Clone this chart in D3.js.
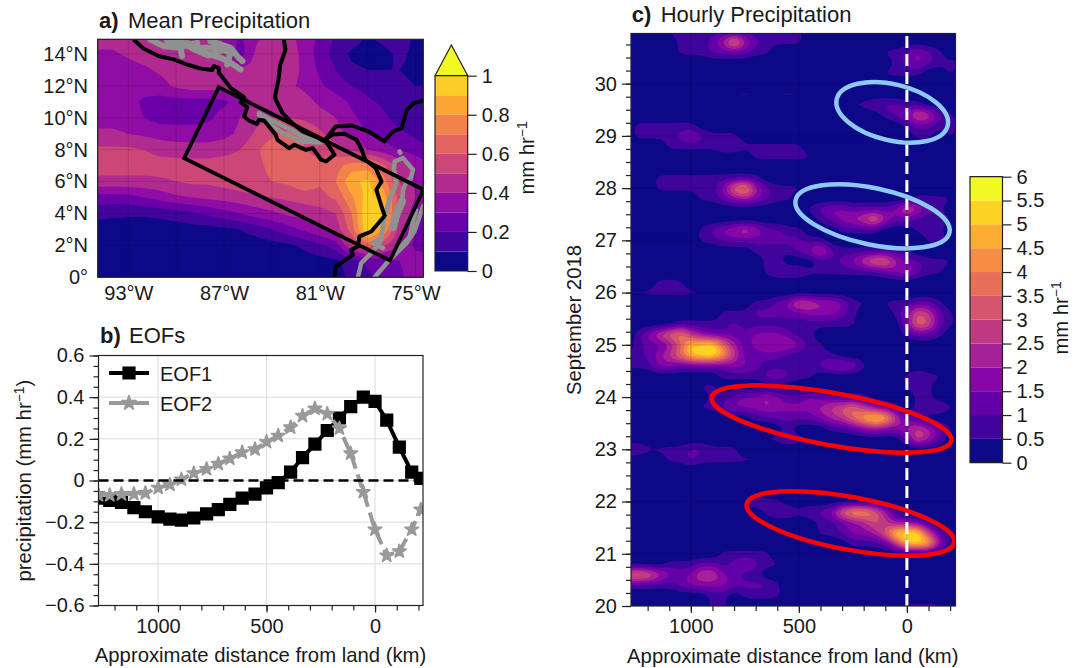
<!DOCTYPE html>
<html>
<head>
<meta charset="utf-8">
<script src="https://cdn.jsdelivr.net/npm/d3@7"></script>
<style>
    body { margin: 0; background: #fff; }
    text { font-family: "Liberation Sans", sans-serif; fill: #1a1a1a; }
</style>
</head>
<body>
<svg id="chart" width="1083" height="668"></svg>
<script>
// panel a: mean precipitation, hundredths of mm/hr, one row per latitude, one column per longitude
const meanLons = [-95, -94, -93, -92, -91, -90, -89, -88, -87, -86, -85, -84, -83, -82, -81, -80, -79, -78, -77, -76, -75, -74]
const meanLats = [15, 14, 13, 12, 11, 10, 9, 8, 7, 6, 5, 4, 3, 2, 1, 0]
const meanRows = [
    [45, 45, 45, 45, 45, 45, 45, 43, 38, 28, 38, 45, 45, 35, 28, 18, 15, 8, 13, 15, 8, 5],
    [38, 38, 42, 45, 45, 45, 45, 45, 45, 25, 42, 45, 44, 38, 25, 16, 8, 6, 7, 12, 8, 6],
    [35, 35, 35, 38, 42, 45, 45, 45, 45, 42, 44, 48, 45, 38, 28, 20, 12, 10, 10, 10, 8, 8],
    [35, 35, 35, 35, 36, 42, 45, 45, 45, 45, 48, 45, 42, 38, 32, 25, 20, 16, 15, 12, 10, 10],
    [35, 35, 34, 28, 26, 26, 26, 26, 28, 34, 42, 46, 48, 44, 38, 35, 28, 22, 18, 15, 13, 12],
    [36, 36, 34, 30, 26, 26, 26, 28, 34, 40, 46, 50, 50, 48, 44, 40, 32, 26, 22, 16, 14, 13],
    [42, 42, 40, 38, 36, 35, 35, 35, 37, 42, 52, 58, 62, 60, 52, 44, 36, 30, 26, 22, 18, 15],
    [52, 52, 52, 50, 46, 45, 44, 44, 46, 50, 58, 66, 62, 60, 58, 55, 48, 40, 34, 30, 25, 20],
    [55, 55, 55, 55, 55, 55, 55, 55, 56, 56, 58, 62, 62, 62, 62, 66, 75, 75, 62, 45, 38, 32],
    [47, 47, 47, 47, 48, 50, 52, 52, 54, 56, 58, 60, 62, 68, 62, 70, 88, 92, 75, 50, 38, 30],
    [25, 25, 26, 30, 34, 38, 40, 42, 44, 46, 48, 50, 52, 54, 56, 62, 78, 95, 85, 55, 40, 28],
    [15, 13, 12, 12, 13, 15, 18, 22, 26, 30, 35, 38, 42, 44, 46, 50, 70, 100, 95, 50, 34, 25],
    [3, 3, 3, 3, 4, 5, 6, 6, 8, 10, 14, 20, 26, 32, 38, 44, 65, 100, 80, 45, 30, 22],
    [2, 2, 2, 2, 2, 2, 2, 3, 3, 4, 5, 6, 8, 12, 18, 25, 50, 65, 52, 38, 28, 22],
    [1, 1, 1, 1, 1, 1, 1, 1, 2, 2, 2, 3, 4, 5, 6, 8, 14, 22, 26, 30, 34, 40],
    [1, 1, 1, 1, 1, 1, 1, 1, 1, 1, 2, 2, 3, 4, 5, 7, 12, 18, 22, 28, 36, 42]
]
const meanLevels = [0, 0.1, 0.2, 0.3, 0.4, 0.5, 0.6, 0.7, 0.8, 0.9, 1]
const meanTicks = [0, 0.2, 0.4, 0.6, 0.8, 1]
const lonTicks = [-93, -87, -81, -75]
const latTicks = [0, 2, 4, 6, 8, 10, 12, 14]
const lonGrid = [-93, -90, -87, -84, -81, -78, -75]

// map outlines, [lon, lat]
const pacificCoast = [[-92.68, 14.91], [-92.05, 14.34], [-91.1, 13.87], [-90.16, 13.66], [-89.32, 13.34], [-88.48, 13.09], [-87.74, 12.99], [-87.64, 13.24], [-87.33, 13.13], [-87.33, 12.82], [-86.59, 11.88], [-85.75, 11.3], [-85.96, 10.96], [-85.54, 10.67], [-85.75, 10.08], [-85.44, 9.83], [-84.95, 9.62], [-84.81, 9.87], [-84.49, 9.83], [-83.76, 8.93], [-83.65, 8.62], [-82.92, 8.1], [-82.6, 8.31], [-81.87, 7.99], [-81.44, 8.1], [-80.92, 7.37], [-80.61, 7.26], [-80.08, 7.68], [-80.4, 8.2], [-80.71, 8.6], [-80.2, 8.95], [-79.46, 9], [-78.7, 8.62], [-78.37, 8], [-78.15, 7.37], [-77.5, 6.85], [-77.13, 6.01], [-77.45, 5.49], [-77.13, 4.44], [-76.93, 3.86], [-77.77, 2.87], [-78.51, 2.56], [-78.61, 1.93], [-79.03, 1.72], [-78.93, 1.41], [-79.98, 0.68], [-80.08, 0]]
const caribbeanCoast = [[-83.26, 14.93], [-83.15, 14.26], [-83.48, 13.32], [-83.59, 12.38], [-83.8, 11.34], [-83.76, 11.13], [-83.33, 10.29], [-82.72, 9.67], [-82.07, 9.14], [-81.2, 8.79], [-80.71, 8.51]]
const colombiaCoast = [[-80.71, 8.55], [-80, 9.46], [-79.02, 9.52], [-77.93, 9.14], [-76.96, 8.52], [-76.41, 9.14], [-75.87, 9.35], [-75.54, 10.5], [-75.11, 10.92], [-74.5, 11.09]]
const analysisBox = [[-87.33, 11.92], [-74.5, 5.49], [-76.6, 1.05], [-89.5, 7.47]]
const highlandLines = [
    [[-91.63, 14.91], [-90.79, 14.49], [-89.74, 14.39], [-89.63, 13.87]],
    [[-90.57, 14.81], [-89.53, 14.49], [-88.68, 14.7]],
    [[-89.32, 14.7], [-88.27, 14.08], [-87.22, 13.76], [-86.59, 13.45], [-85.96, 13.03]],
    [[-88.68, 14.39], [-87.43, 14.39], [-86.59, 14.08], [-86.8, 13.34]],
    [[-87.85, 14.81], [-86.59, 14.39], [-86.17, 13.87], [-85.85, 13.55]],
    [[-89.9, 14.9], [-88.9, 14.3], [-88, 13.9], [-87.2, 14.2]]
]
const terrainLines = [
    [[-84.81, 10.29], [-83.86, 9.77], [-82.81, 9.25], [-81.87, 8.73], [-80.92, 8.51]],
    [[-84.81, 10.18], [-84.07, 9.56], [-83.33, 9.04], [-82.18, 8.51], [-80.92, 8.45]],
    [[-76, 7.89], [-75.95, 7.8]],
    [[-76.35, 6.74], [-76.31, 7.26], [-75.78, 7.47], [-75.15, 6.74], [-75.3, 6.2], [-75.57, 6.01], [-75.78, 5.49], [-75.84, 4.75], [-76.2, 3.92], [-76.41, 3.15]],
    [[-76.31, 6.63], [-76.2, 5.8], [-76.62, 4.97], [-76.83, 4.13], [-77.04, 3.29], [-77.14, 2.46], [-77.67, 2.14], [-77.04, 1.83]],
    [[-78.61, 0], [-78.4, 0.89], [-77.67, 1.62], [-77.14, 2.35]],
    [[-77.56, 0], [-76.72, 0.99], [-75.57, 2.14], [-75.07, 2.87], [-74.5, 4.5]],
    [[-76.09, 1.72], [-75.36, 2.56], [-75.15, 3.5], [-74.95, 4.2]]
]
const thickTerrain = [[-75.84, 4.75], [-76.2, 3.92], [-76.41, 3.15]]

// panel b: leading EOFs
const eofKm = [1274, 1222, 1168, 1111, 1058, 999, 945, 892, 835, 776, 722, 669, 612, 553, 500, 446, 389, 334, 277, 220, 164, 112, 54, 0, -54, -112, -169, -211]
const eof1 = [-0.085, -0.095, -0.105, -0.13, -0.15, -0.175, -0.185, -0.19, -0.18, -0.16, -0.14, -0.115, -0.085, -0.065, -0.035, -0.01, 0.04, 0.11, 0.175, 0.24, 0.3, 0.355, 0.4, 0.38, 0.29, 0.16, 0.04, 0.01]
const eof2 = [-0.07, -0.07, -0.065, -0.065, -0.06, -0.035, -0.02, 0.005, 0.035, 0.055, 0.08, 0.105, 0.135, 0.15, 0.185, 0.215, 0.255, 0.31, 0.345, 0.32, 0.25, 0.13, -0.055, -0.235, -0.36, -0.34, -0.235, -0.14]
const eofTicks = [-0.6, -0.4, -0.2, 0, 0.2, 0.4, 0.6]
const kmTicks = [1000, 500, 0]

// panel c: hovmoller, one char per 50 km (1300 .. -250), char is the colour band number, '.' is below 0.5
const hourlyDays = [31, 30.8, 30.6, 30.4, 30.2, 30, 29.8, 29.6, 29.4, 29.2, 29, 28.8, 28.6, 28.4, 28.2, 28, 27.8, 27.6, 27.4, 27.2, 27, 26.8, 26.6, 26.4, 26.2, 26, 25.8, 25.6, 25.4, 25.2, 25, 24.8, 24.6, 24.4, 24.2, 24, 23.8, 23.6, 23.4, 23.2, 23, 22.8, 22.6, 22.4, 22.2, 22, 21.8, 21.6, 21.4, 21.2, 21, 20.8, 20.6, 20.4, 20.2, 20]
const hourlyRows = [
    "....1111111111111",
    ".....111248421111",
    ".....111222211..........112321",
    ".........................1232111",
    "........................1111..1.",
    "....11",
    "..........111.111",
    ".....................1122211",
    "........................1236521",
    ".111111............." + "......122111",
    ".1111232111........." + ".......11.1.",
    "....1111122111111",
    "............111111",
    "",
    "...1111111111",
    ".1.11111137942111",
    ".......112343211...." + ".......1111",
    ".................123" + "3222236421",
    "..................12" + "34574221111",
    ".......1234542211..." + "1111...111",
    ".......112222222211." + "........111",
    "............11112352" + "1111111",
    ".............11...112" + "3577422111",
    ".............1222111" + "1111234211",
    "...111",
    "11111111",
    "............11236544" + "311.111221",
    ".........11122222333" + "21...136521",
    ".....111112111111111" + "11....37621",
    ".13578532222333211.." + "......1221",
    ".12236aab7423444311",
    "11235 7abb95222211111".replace(" ", ""),
    "11133222223321111123" + "431",
    ".........111123211.." + "......1211",
    ".......11..........." + "......111",
    "........112334322322" + "111....11",
    ".......1123334333345" + "675321.1221",
    "............11222234" + "579ba521",
    "...............1...1" + "12343345421",
    ".............11211.." + "......2642",
    "22111122111",
    "....112111111",
    "",
    ".......11",
    "",
    ".....111...1211",
    ".............1221223" + "799741",
    "..................11" + "234653321",
    "..................11" + "23346bbb52",
    "...................." + ".11125aba41",
    ".........11111",
    "....11122123211",
    "7875323553211",
    "111112333322221",
    "........11.1111",
    "........11.........." + "......1111"
]
const hourlyKm = [1300, 1250, 1200, 1150, 1100, 1050, 1000, 950, 900, 850, 800, 750, 700, 650, 600, 550, 500, 450, 400, 350, 300, 250, 200, 150, 100, 50, 0, -50, -100, -150, -200, -250]
const hourlyLevels = [0, 0.5, 1, 1.5, 2, 2.5, 3, 3.5, 4, 4.5, 5, 5.5, 6]
const hourlyTicks = [0, 0.5, 1, 1.5, 2, 2.5, 3, 3.5, 4, 4.5, 5, 5.5, 6]
const dayTicks = [20, 21, 22, 23, 24, 25, 26, 27, 28, 29, 30]
const dayMinor = d3.range(20, 31, 0.25)

// circled events: centre km, centre day, half length km, half width days, tilt
const redEvents = [[349, 23.58, 564, 0.5, 10.25], [261, 21.58, 489, 0.505, 10.5]]
const blueEvents = [[68, 29.45, 264, 0.536, 13.5], [159, 27.46, 364, 0.54, 11.9]]

const svg = d3.select("#chart")
const tickFont = 20
const labelFont = 20.3

function superscriptUnit(sel) {
    sel.append("tspan").text("mm hr")
    sel.append("tspan").attr("dy", -7).attr("font-size", "0.68em").text("\u22121")
}

function panelTitle(x, y, letter, title) {
    svg.append("text").attr("x", x).attr("y", y).attr("font-size", 22).attr("font-weight", "bold").text(letter)
    svg.append("text").attr("x", x + 29).attr("y", y).attr("font-size", 22).text(title)
}

function styleAxis(g, width) {
    g.attr("font-size", tickFont).attr("font-family", "Liberation Sans")
    g.selectAll("line").attr("stroke", "#222").attr("stroke-width", width || 1.2)
    g.select(".domain").remove()
}

// contour a grid, up-sampled so the shapes look smooth like the original
function upsample(rows, f) {
    const m = rows.length, n = rows[0].length
    const nn = (n - 1) * f + 1, mm = (m - 1) * f + 1
    const out = new Float64Array(nn * mm)
    for (let j = 0; j < mm; j++) {
        const y0 = Math.min(Math.floor(j / f), m - 2), ty = j / f - y0
        for (let i = 0; i < nn; i++) {
            const x0 = Math.min(Math.floor(i / f), n - 2), tx = i / f - x0
            out[j * nn + i] = rows[y0][x0] * (1 - tx) * (1 - ty) + rows[y0][x0 + 1] * tx * (1 - ty)
                + rows[y0 + 1][x0] * (1 - tx) * ty + rows[y0 + 1][x0 + 1] * tx * ty
        }
    }
    return { values: out, nn, mm }
}

function drawField(g, values, nn, mm, levels, colors, gx, gy) {
    const path = d3.geoPath(d3.geoTransform({
        point(x, y) { this.stream.point(gx(x - 0.5), gy(y - 0.5)) }
    }))
    const contours = d3.contours().size([nn, mm]).thresholds(levels)(Array.from(values))
    g.selectAll("path.band").data(contours).enter().append("path")
        .attr("class", "band")
        .attr("d", path)
        .attr("fill", (d, i) => colors[i])
}

function colorbar(x, yTop, yBottom, width, levels, colors, ticks, format, triangle) {
    const scale = d3.scaleLinear().domain([levels[0], levels[levels.length - 1]]).range([yBottom, yTop])
    const g = svg.append("g")
    levels.slice(0, -1).forEach((lev, i) => {
        g.append("rect").attr("x", x).attr("width", width)
            .attr("y", scale(levels[i + 1])).attr("height", scale(lev) - scale(levels[i + 1]))
            .attr("fill", colors[i])
    })
    let outline = `M${x},${yBottom}V${yTop}H${x + width}V${yBottom}Z`
    if (triangle) {
        const tip = `M${x},${yTop}L${x + width / 2},${yTop - triangle}L${x + width},${yTop}Z`
        g.append("path").attr("d", tip).attr("fill", colors[colors.length - 1])
        outline += tip
    }
    g.append("path").attr("d", outline).attr("fill", "none").attr("stroke", "#222").attr("stroke-width", 1.2)
    const ax = svg.append("g").attr("transform", `translate(${x + width},0)`)
        .call(d3.axisRight(scale).tickValues(ticks).tickFormat(format).tickSize(9).tickPadding(5))
    styleAxis(ax)
}

// ---- panel a
const ax = { left: 97.7, right: 423.3, top: 39.3, bottom: 277.3 }
const lonScale = d3.scaleLinear().domain([-94.92, -74.51]).range([ax.left, ax.right])
const latScale = d3.scaleLinear().domain([0, 14.92]).range([ax.bottom, ax.top])
const meanColors = d3.range(11).map(i => d3.interpolatePlasma(i / 10))

svg.append("defs").append("clipPath").attr("id", "clipA").append("rect")
    .attr("x", ax.left).attr("y", ax.top).attr("width", ax.right - ax.left).attr("height", ax.bottom - ax.top)
const gA = svg.append("g").attr("clip-path", "url(#clipA)")
const meanGrid = upsample(meanRows.map(r => r.map(v => v / 100)), 2)
drawField(gA, meanGrid.values, meanGrid.nn, meanGrid.mm, [...meanLevels].map((d, i) => i === 0 ? -1 : d), meanColors,
    d3.scaleLinear().domain([0, meanGrid.nn - 1]).range([lonScale(meanLons[0]), lonScale(meanLons[meanLons.length - 1])]),
    d3.scaleLinear().domain([0, meanGrid.mm - 1]).range([latScale(meanLats[0]), latScale(meanLats[meanLats.length - 1])]))

lonGrid.forEach(d => gA.append("line").attr("x1", lonScale(d)).attr("x2", lonScale(d)).attr("y1", ax.top).attr("y2", ax.bottom)
    .attr("stroke", "#000").attr("stroke-opacity", 0.14))
latTicks.forEach(d => gA.append("line").attr("y1", latScale(d)).attr("y2", latScale(d)).attr("x1", ax.left).attr("x2", ax.right)
    .attr("stroke", "#000").attr("stroke-opacity", 0.14))

const mapLine = d3.line().x(d => lonScale(d[0])).y(d => latScale(d[1]))
const straightLine = d3.line().x(d => lonScale(d[0])).y(d => latScale(d[1])).curve(d3.curveLinearClosed)
function drawTerrain(line, width) {
    gA.append("path").attr("d", mapLine(line)).attr("fill", "none")
        .attr("stroke", "#8f9290").attr("stroke-width", width).attr("stroke-linejoin", "round").attr("stroke-linecap", "round")
}
highlandLines.forEach(line => drawTerrain(line, 6))
terrainLines.forEach(line => drawTerrain(line, 4.5))
drawTerrain(thickTerrain, 8)
const coasts = [pacificCoast, caribbeanCoast, colombiaCoast]
coasts.forEach(line => gA.append("path").attr("d", mapLine(line)).attr("fill", "none")
    .attr("stroke", "#000").attr("stroke-width", 4).attr("stroke-linejoin", "round"))
gA.append("path").attr("d", straightLine(analysisBox)).attr("fill", "none").attr("stroke", "#000").attr("stroke-width", 3.8)

svg.append("rect").attr("x", ax.left).attr("y", ax.top).attr("width", ax.right - ax.left).attr("height", ax.bottom - ax.top)
    .attr("fill", "none").attr("stroke", "#222").attr("stroke-width", 1.2)
styleAxis(svg.append("g").attr("transform", `translate(0,${ax.bottom})`)
    .call(d3.axisBottom(lonScale).tickValues(lonTicks).tickSize(0).tickPadding(9).tickFormat(d => `${-d}°W`)))
styleAxis(svg.append("g").attr("transform", `translate(${ax.left},0)`)
    .call(d3.axisLeft(latScale).tickValues(latTicks).tickSize(0).tickPadding(9.7).tickFormat(d => d === 0 ? "0°" : `${d}°N`)))
panelTitle(99, 27.5, "a)", "Mean Precipitation")

colorbar(435, 75.7, 271, 32.7, meanLevels, meanColors, meanTicks, d => d, 30.7)
svg.append("text").attr("transform", "translate(533.5,158) rotate(-90)").attr("text-anchor", "middle").attr("font-size", labelFont)
    .call(superscriptUnit)

// ---- panel b
const bx = { left: 98.5, right: 423, top: 355.5, bottom: 605.5 }
const kmB = d3.scaleLinear().domain([1274, -221]).range([bx.left, bx.right])
const eofY = d3.scaleLinear().domain([-0.6, 0.6]).range([bx.bottom, bx.top])
svg.select("defs").append("clipPath").attr("id", "clipB").append("rect")
    .attr("x", bx.left).attr("y", bx.top).attr("width", bx.right - bx.left).attr("height", bx.bottom - bx.top)
const gB = svg.append("g").attr("clip-path", "url(#clipB)")
kmTicks.forEach(d => gB.append("line").attr("x1", kmB(d)).attr("x2", kmB(d)).attr("y1", bx.top).attr("y2", bx.bottom)
    .attr("stroke", "#dcdcdc").attr("stroke-width", 1))
eofTicks.forEach(d => gB.append("line").attr("y1", eofY(d)).attr("y2", eofY(d)).attr("x1", bx.left).attr("x2", bx.right)
    .attr("stroke", "#dcdcdc").attr("stroke-width", 1))

const eofLine = d3.line().x((d, i) => kmB(eofKm[i])).y(d => eofY(d))
gB.append("path").attr("d", eofLine(eof1)).attr("fill", "none").attr("stroke", "#000").attr("stroke-width", 4)
gB.selectAll(".sq").data(eof1).enter().append("path").attr("class", "sq")
    .attr("d", d3.symbol(d3.symbolSquare, 175))
    .attr("transform", (d, i) => `translate(${kmB(eofKm[i])},${eofY(d)})`).attr("fill", "#000")
gB.append("path").attr("d", eofLine(eof2)).attr("fill", "none").attr("stroke", "#999").attr("stroke-width", 4).attr("stroke-dasharray", "14,6")
gB.selectAll(".star").data(eof2).enter().append("path").attr("class", "star")
    .attr("d", d3.symbol(d3.symbolStar, 55))
    .attr("transform", (d, i) => `translate(${kmB(eofKm[i])},${eofY(d)})`)
    .attr("fill", "#999").attr("stroke", "#999").attr("stroke-width", 1.8).attr("stroke-linejoin", "round")
gB.append("line").attr("x1", bx.left).attr("x2", bx.right).attr("y1", eofY(0)).attr("y2", eofY(0))
    .attr("stroke", "#000").attr("stroke-width", 2.6).attr("stroke-dasharray", "10,5")

// legend
gB.append("line").attr("x1", 109).attr("x2", 149).attr("y1", 373).attr("y2", 373).attr("stroke", "#000").attr("stroke-width", 4)
gB.append("path").attr("d", d3.symbol(d3.symbolSquare, 175)).attr("transform", "translate(129,373)")
gB.append("line").attr("x1", 109).attr("x2", 149).attr("y1", 403).attr("y2", 403).attr("stroke", "#999").attr("stroke-width", 4)
gB.append("path").attr("d", d3.symbol(d3.symbolStar, 60)).attr("transform", "translate(129,403)")
    .attr("fill", "#999").attr("stroke", "#999").attr("stroke-width", 1.8).attr("stroke-linejoin", "round")
gB.append("text").attr("x", 160).attr("y", 380.5).attr("font-size", tickFont).text("EOF1")
gB.append("text").attr("x", 160).attr("y", 410.5).attr("font-size", tickFont).text("EOF2")

svg.append("rect").attr("x", bx.left).attr("y", bx.top).attr("width", bx.right - bx.left).attr("height", bx.bottom - bx.top)
    .attr("fill", "none").attr("stroke", "#222").attr("stroke-width", 1.2)
styleAxis(svg.append("g").attr("transform", `translate(${bx.left},0)`)
    .call(d3.axisLeft(eofY).tickValues(eofTicks).tickSize(9).tickPadding(5).tickFormat(d => d === 0 ? "0" : d3.format(".1f")(d).replace("-", "\u2212"))))
styleAxis(svg.append("g").attr("transform", `translate(${bx.left},0)`)
    .call(d3.axisLeft(eofY).tickValues(d3.range(-0.6, 0.61, 0.05)).tickSize(5).tickFormat("")))
styleAxis(svg.append("g").attr("transform", `translate(0,${bx.bottom})`)
    .call(d3.axisBottom(kmB).tickValues(kmTicks).tickSize(7).tickPadding(6).tickFormat(d => d)))
styleAxis(svg.append("g").attr("transform", `translate(0,${bx.bottom})`)
    .call(d3.axisBottom(kmB).tickValues(d3.range(-200, 1300, 100)).tickSize(5).tickFormat("")))
svg.append("text").attr("transform", "translate(31,480.7) rotate(-90)").attr("text-anchor", "middle").attr("font-size", labelFont)
    .call(sel => {
        sel.append("tspan").text("precipitation (mm hr")
        sel.append("tspan").attr("dy", -7).attr("font-size", "0.68em").text("\u22121")
        sel.append("tspan").attr("dy", 7).text(")")
    })
svg.append("text").attr("x", 260.5).attr("y", 661.7).attr("text-anchor", "middle").attr("font-size", labelFont).text("Approximate distance from land (km)")
panelTitle(100, 343, "b)", "EOFs")

// ---- panel c
const cx = { left: 631, right: 955.5, top: 33.5, bottom: 606 }
const kmC = d3.scaleLinear().domain([1277, -225]).range([cx.left, cx.right])
const dayY = d3.scaleLinear().domain([20, 30.96]).range([cx.bottom, cx.top])
const hourlyColors = d3.range(12).map(i => d3.interpolatePlasma(i / 11))
svg.select("defs").append("clipPath").attr("id", "clipC").append("rect")
    .attr("x", cx.left).attr("y", cx.top).attr("width", cx.right - cx.left).attr("height", cx.bottom - cx.top)
const gC = svg.append("g").attr("clip-path", "url(#clipC)")

const bandChars = ".123456789ab"
const hourlyNumeric = hourlyRows.map(row => hourlyKm.map((km, i) => {
    const band = bandChars.indexOf(row.charAt(i) || ".")
    return band <= 0 ? 0 : band * 0.5 + 0.2
}))
const hourlyGrid = upsample(hourlyNumeric, 4)
d3.blur2({ data: hourlyGrid.values, width: hourlyGrid.nn }, 1)
drawField(gC, hourlyGrid.values, hourlyGrid.nn, hourlyGrid.mm, hourlyLevels.map((d, i) => i === 0 ? -1 : d).slice(0, 12), hourlyColors,
    d3.scaleLinear().domain([0, hourlyGrid.nn - 1]).range([kmC(hourlyKm[0]), kmC(hourlyKm[hourlyKm.length - 1])]),
    d3.scaleLinear().domain([0, hourlyGrid.mm - 1]).range([dayY(hourlyDays[0]), dayY(hourlyDays[hourlyDays.length - 1])]))

kmTicks.forEach(d => gC.append("line").attr("x1", kmC(d)).attr("x2", kmC(d)).attr("y1", cx.top).attr("y2", cx.bottom)
    .attr("stroke", "#000").attr("stroke-opacity", 0.14))
dayTicks.forEach(d => gC.append("line").attr("y1", dayY(d)).attr("y2", dayY(d)).attr("x1", cx.left).attr("x2", cx.right)
    .attr("stroke", "#000").attr("stroke-opacity", 0.14))

gC.append("line").attr("x1", kmC(0)).attr("x2", kmC(0)).attr("y1", 36).attr("y2", cx.bottom)
    .attr("stroke", "#fff").attr("stroke-width", 3).attr("stroke-dasharray", "12,6")

function drawEvents(events, color) {
    const pxPerKm = Math.abs(kmC(0) - kmC(1)), pxPerDay = Math.abs(dayY(0) - dayY(1))
    gC.selectAll(null).data(events).enter().append("ellipse")
        .attr("transform", d => `translate(${kmC(d[0])},${dayY(d[1])}) rotate(${d[4]})`)
        .attr("rx", d => d[2] * pxPerKm).attr("ry", d => d[3] * pxPerDay)
        .attr("fill", "none").attr("stroke", color).attr("stroke-width", 4.5)
}
drawEvents(redEvents, "#ff0000")
drawEvents(blueEvents, "#8fc8f2")

svg.append("rect").attr("x", cx.left).attr("y", cx.top).attr("width", cx.right - cx.left).attr("height", cx.bottom - cx.top)
    .attr("fill", "none").attr("stroke", "#222").attr("stroke-width", 1.2)
styleAxis(svg.append("g").attr("transform", `translate(${cx.left},0)`)
    .call(d3.axisLeft(dayY).tickValues(dayTicks).tickSize(9).tickPadding(5).tickFormat(d => d)))
styleAxis(svg.append("g").attr("transform", `translate(${cx.left},0)`)
    .call(d3.axisLeft(dayY).tickValues(dayMinor).tickSize(5).tickFormat("")))
styleAxis(svg.append("g").attr("transform", `translate(0,${cx.bottom})`)
    .call(d3.axisBottom(kmC).tickValues(kmTicks).tickSize(7).tickPadding(6).tickFormat(d => d)))
styleAxis(svg.append("g").attr("transform", `translate(0,${cx.bottom})`)
    .call(d3.axisBottom(kmC).tickValues(d3.range(-200, 1300, 100)).tickSize(5).tickFormat("")))
svg.append("text").attr("transform", "translate(581,320) rotate(-90)").attr("text-anchor", "middle").attr("font-size", labelFont).text("September 2018")
svg.append("text").attr("x", 792.8).attr("y", 662.5).attr("text-anchor", "middle").attr("font-size", labelFont).text("Approximate distance from land (km)")
panelTitle(631.7, 22, "c)", "Hourly Precipitation")

colorbar(970, 176.7, 462.7, 32.5, hourlyLevels, hourlyColors, hourlyTicks, d => d, 0)
svg.append("text").attr("transform", "translate(1068,318) rotate(-90)").attr("text-anchor", "middle").attr("font-size", labelFont)
    .call(superscriptUnit)
</script>
</body>
</html>
